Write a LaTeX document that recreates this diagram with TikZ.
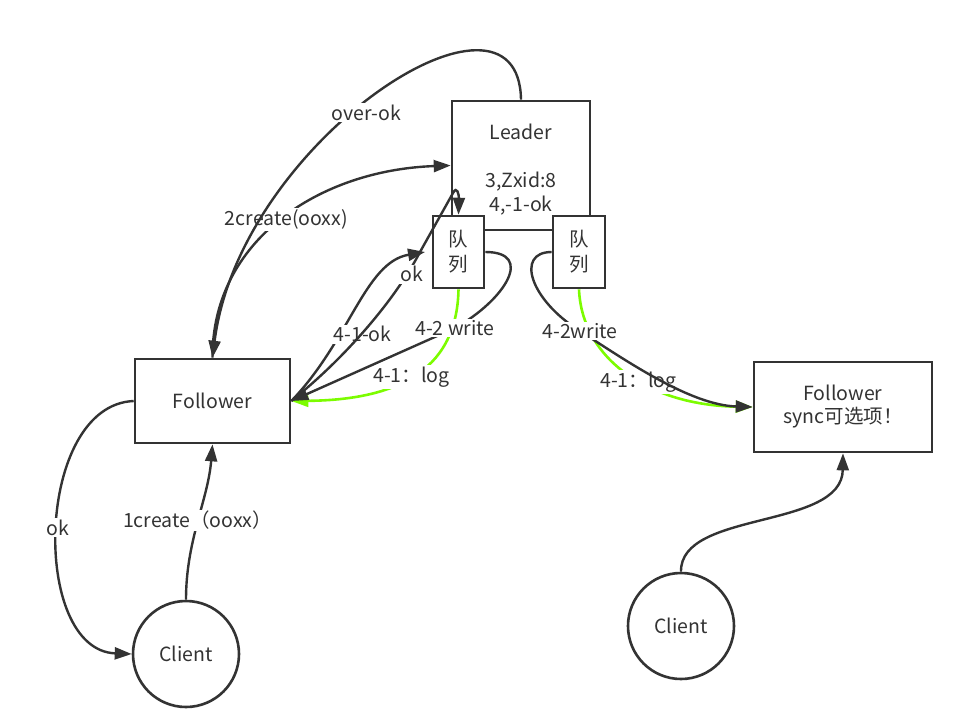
\documentclass[tikz,border=0pt]{standalone}
\usepackage{fontspec}
\setmainfont{Noto Sans CJK SC}
\usetikzlibrary{arrows.meta}
\definecolor{ink}{HTML}{333333}
\definecolor{limeg}{HTML}{7CFC00}
\begin{document}
\begin{tikzpicture}[x=1pt,y=-1pt,
  every node/.style={font=\fontsize{19.5}{24}\selectfont, text=ink},
  box/.style={draw=ink, line width=2.6pt, fill=white, inner sep=0pt, align=center},
  circ/.style={circle, draw=ink, line width=2.6pt, fill=white, minimum size=106pt, inner sep=0pt},
  conn/.style={draw=ink, line width=2.4pt},
  arr/.style={conn, -{Triangle[length=17pt,width=12pt]}},
  garr/.style={draw=limeg, line width=2.6pt, -{Triangle[length=17pt,width=12pt]}},
  lbl/.style={fill=white, inner sep=1.5pt}]
\useasboundingbox (0,0) rectangle (962,716);

% nodes
\node[box, minimum width=138pt, minimum height=129pt] (leader) at (521,165.5)
  {\rule{0pt}{23pt}Leader\\[24pt]3,Zxid:8\\4,-1-ok};
\node[box, minimum width=51pt, minimum height=72pt, font=\fontsize{19.5}{25}\selectfont] (qL) at (458.5,252) {队\\列};
\node[box, minimum width=52pt, minimum height=72pt, font=\fontsize{19.5}{25}\selectfont] (qR) at (579,252) {队\\列};
\node[box, minimum width=155pt, minimum height=84pt] (f1) at (212.5,401) {Follower};
\node[box, minimum width=178pt, minimum height=90pt, font=\fontsize{19.5}{23}\selectfont] (f2) at (843,407) {Follower\\sync可选项！};
\node[circ] (c1) at (186,654) {Client};
\node[circ] (c2) at (681,626) {Client};
\coordinate (okTip) at (425,252);

% client side edges
\draw[arr] (c1.north) .. controls (186,540) and (208,500) .. (f1.south)
  node[lbl, pos=0.5] {1create（ooxx）};
\draw[arr] (f1.west) .. controls (35,405) and (30,650) .. (c1.west)
  node[lbl, pos=0.5] {ok};
\draw[arr] (c2.north) .. controls (680,510) and (842,530) .. (f2.south);

% follower <-> leader
\draw[arr] (f1.north) .. controls (212,240) and (320,170) .. (leader.west)
  node[lbl, pos=0.5, xshift=4pt] {2create(ooxx)};
\draw[arr] (leader.north) .. controls (519,-40) and (240,140) .. (f1.north)
  node[lbl, pos=0.55, xshift=12pt] {over-ok};

% green log edges
\draw[garr] (qL.south) .. controls (457,375) and (390,400) .. (f1.east)
  node[lbl, pos=0.5] {4-1：log};
\draw[garr] (qR.south) .. controls (582,360) and (650,405) .. (f2.west)
  node[lbl, pos=0.5, xshift=10pt, yshift=-8pt] {4-1：log};

% black write edges
\draw[arr] (qL.east) .. controls (535,252) and (505,300) .. (455,328)
  node[lbl] {4-2 write} -- (f1.east);
\draw[arr] (qR.west) .. controls (515,252) and (530,300) .. (580,331)
  node[lbl] {4-2write} .. controls (625,360) and (690,405) .. (f2.west);

% ack edges
\draw[arr] (f1.east) .. controls (350,340) and (365,262) .. (okTip)
  node[lbl, pos=0.35, xshift=22pt] {4-1-ok};
\draw[arr] (f1.east) .. controls (345,358) and (395,300) .. (420,252)
  node[lbl, pos=0.85, xshift=5pt] {ok}
  -- (453,193) .. controls (457,185) and (459,195) .. (qL.north);
\end{tikzpicture}
\end{document}
